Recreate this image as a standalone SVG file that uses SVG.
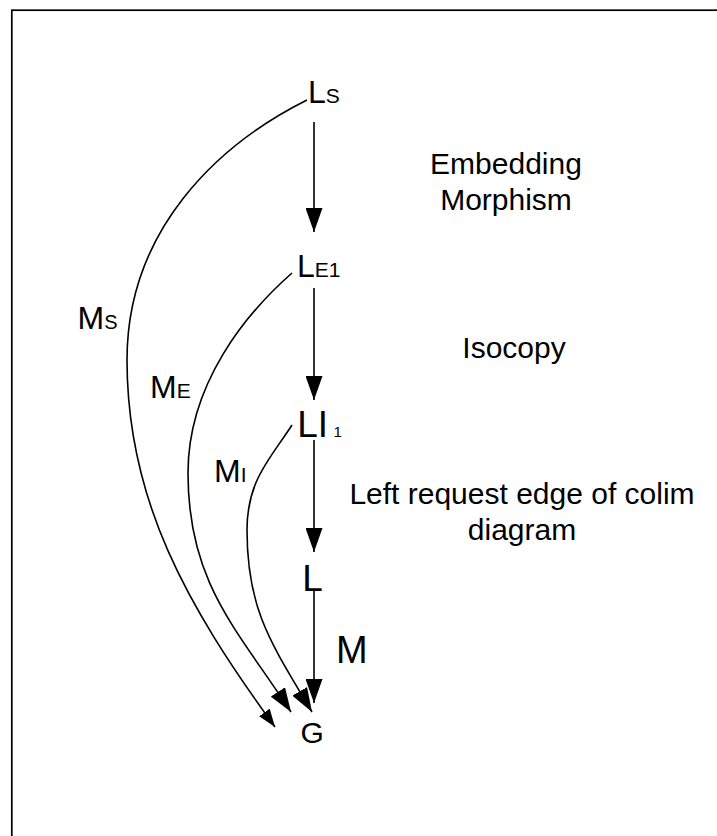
<svg xmlns="http://www.w3.org/2000/svg" width="717" height="836" viewBox="0 0 717 836">
<style>
text{font-family:"Liberation Sans",Arial,sans-serif;fill:#000}
.big{font-size:32px}
.bigger{font-size:37px}
.sub{font-size:21px}
.note{font-size:30px;text-anchor:middle}
.edge{fill:none;stroke:#000;stroke-width:1.6}
</style>
<defs>
<marker id="ah" markerUnits="userSpaceOnUse" viewBox="0 0 24 17" refX="24" refY="8.5" markerWidth="24" markerHeight="17" orient="auto"><path d="M0,0 L24,8.5 L0,17 Z" fill="#000"/></marker>
<marker id="ahs" markerUnits="userSpaceOnUse" viewBox="0 0 18 13" refX="18" refY="6.5" markerWidth="18" markerHeight="13" orient="auto"><path d="M0,0 L18,6.5 L0,13 Z" fill="#000"/></marker>
</defs>
<rect x="11.8" y="10.2" width="720" height="840" fill="#fff" stroke="#000" stroke-width="1.7"/>
<g id="connectors">
<path class="edge" d="M314 122 V232" marker-end="url(#ah)"/>
<path class="edge" d="M314 288 V400" marker-end="url(#ah)"/>
<path class="edge" d="M314 440 V552" marker-end="url(#ah)"/>
<path class="edge" d="M314 591 V703" marker-end="url(#ah)"/>
<path class="edge" d="M307 100 C217.6 144.7 127 230 127 360 C127 500 186.5 605.5 275 727" marker-end="url(#ahs)"/>
<path class="edge" d="M292 273 C247 312.6 188 383 188 473 C188 583 237 629 291 712" marker-end="url(#ah)"/>
<path class="edge" d="M292 425 C270.4 458.6 247 480 247 530 C247 610 271 643 312 712" marker-end="url(#ah)"/>
</g>
<g id="edge-labels">
<text x="336" y="663" style="font-size:38px">M</text>
<text x="77.6" y="329" class="big">M<tspan class="sub" style="font-size:20px">S</tspan></text>
<text x="150" y="397.7" class="big">M<tspan class="sub">E</tspan></text>
<text x="214" y="481.7" class="big">M<tspan class="sub">I</tspan></text>
</g>
<g id="node-Ls"><text x="308" y="103" class="big">L<tspan class="sub">S</tspan></text></g>
<g id="node-LE1"><text x="297" y="277" class="big">L<tspan class="sub">E1</tspan></text></g>
<g id="node-LI1"><text x="297.3" y="437" class="bigger">LI<tspan x="333.5" style="font-size:15px">1</tspan></text></g>
<g id="node-L"><text x="302.3" y="591" class="bigger">L</text></g>
<g id="node-G"><text x="300.6" y="743" style="font-size:30px">G</text></g>
<g id="notes">
<text class="note" x="506" y="174">Embedding</text>
<text class="note" x="506" y="210">Morphism</text>
<text class="note" x="514" y="358">Isocopy</text>
<text class="note" x="522" y="504">Left request edge of colim</text>
<text class="note" x="522" y="540">diagram</text>
</g>
</svg>
